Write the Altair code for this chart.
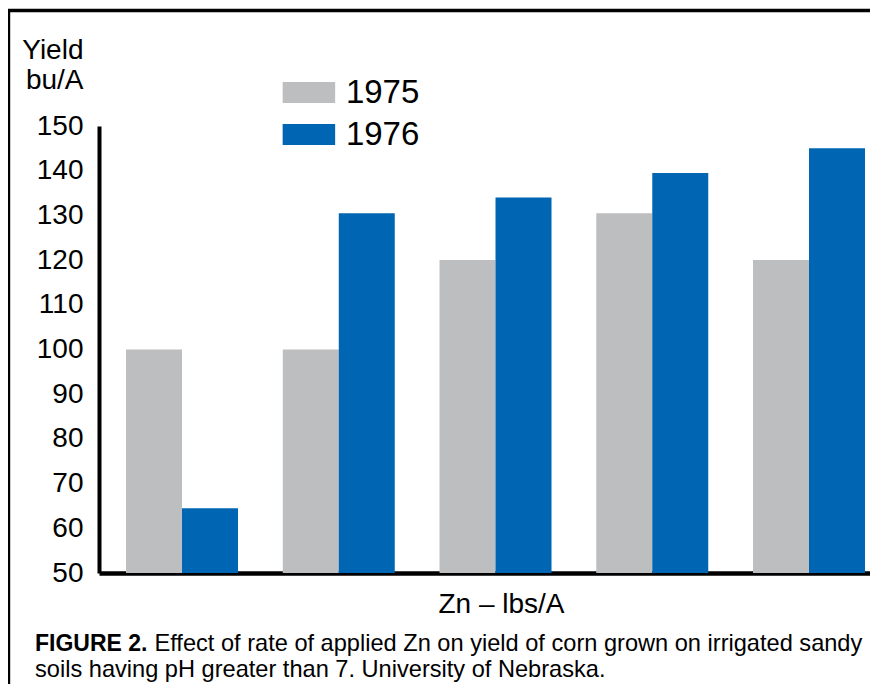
import altair as alt
import pandas as pd

# ---- data ----
rates = ["Rate 1", "Rate 2", "Rate 3", "Rate 4", "Rate 5"]
years = ["1975", "1976"]
yield_1975 = [100, 100, 120, 130.5, 120]
yield_1976 = [64.5, 130.5, 134, 139.5, 145]
y_ticks = [50, 60, 70, 80, 90, 100, 110, 120, 130, 140, 150]
bar_colors = ["#BDBEC0", "#0066B3"]
y_title = ["Yield", "bu/A"]
x_title = "Zn \u2013 lbs/A"
caption_bold = ["FIGURE 2."]
caption_line1 = ["Effect of rate of applied Zn on yield of corn grown on irrigated sandy"]
caption_line2 = ["soils having pH greater than 7. University of Nebraska."]

rows = []
for r, a, b in zip(rates, yield_1975, yield_1976):
    rows.append({"rate": r, "year": years[0], "yield": a})
    rows.append({"rate": r, "year": years[1], "yield": b})
df = pd.DataFrame(rows)

FONT = "Liberation Sans"
W, H = 771, 447

bars = alt.Chart(df).mark_bar().encode(
    x=alt.X(
        "rate:N", sort=rates,
        scale=alt.Scale(paddingInner=0.2855, paddingOuter=0.1021, align=0.844, round=False),
        axis=alt.Axis(
            labels=False, ticks=False, grid=False, domain=True,
            domainColor="black", domainWidth=4.5,
            title=x_title, titleFont=FONT, titleFontSize=28, titleFontWeight="normal",
            titleColor="black", titleX=402, titleY=39, titleAlign="center",
            titleBaseline="alphabetic", titleAnchor="start",
        ),
    ),
    xOffset=alt.XOffset("year:N", sort=years,
                        scale=alt.Scale(paddingInner=0, paddingOuter=0, round=False)),
    y=alt.Y(
        "yield:Q",
        scale=alt.Scale(domain=[50, 150], zero=False, nice=False),
        axis=alt.Axis(
            values=y_ticks, ticks=False, tickSize=0, grid=False,
            domain=True, domainColor="black", domainWidth=4,
            labelFont=FONT, labelFontSize=28, labelColor="black", labelPadding=16,
            labelBaseline="middle",
            title=y_title, titleFont=FONT, titleFontSize=28, titleFontWeight="normal",
            titleColor="black", titleAngle=0, titleAlign="right", titleBaseline="alphabetic",
            titleX=-16, titleY=-68, titleLineHeight=30,
        ),
    ),
    y2=alt.datum(50),
    color=alt.Color(
        "year:N", sort=years,
        scale=alt.Scale(domain=years, range=bar_colors),
        legend=alt.Legend(
            title=None, orient="none", legendX=193.4, legendY=-50, direction="vertical",
            symbolType="M-2.5,-1H2.5V1H-2.5Z", symbolSize=441, symbolStrokeWidth=0,
            symbolOpacity=1, labelFont=FONT, labelFontSize=33, labelColor="black",
            labelOffset=20.5, rowPadding=8, padding=0,
        ),
    ),
)

one = pd.DataFrame({"k": [0]})

left_border = alt.Chart(one).mark_rule(color="black", strokeWidth=3).encode(
    x=alt.value(-90.3), y=alt.value(-117), y2=alt.value(560)
)
top_border = alt.Chart(one).mark_rule(color="black", strokeWidth=3.5).encode(
    x=alt.value(-91.8), x2=alt.value(W), y=alt.value(-115.5)
)

cap_bold = alt.Chart(pd.DataFrame({"t": caption_bold})).mark_text(
    font=FONT, fontSize=23, fontWeight="bold", align="left", baseline="alphabetic", color="black"
).encode(text="t:N", x=alt.value(-64), y=alt.value(525))

cap_l1 = alt.Chart(pd.DataFrame({"t": caption_line1})).mark_text(
    font=FONT, fontSize=23.6, align="left", baseline="alphabetic", color="black"
).encode(text="t:N", x=alt.value(55.5), y=alt.value(525))

cap_l2 = alt.Chart(pd.DataFrame({"t": caption_line2})).mark_text(
    font=FONT, fontSize=23.6, align="left", baseline="alphabetic", color="black"
).encode(text="t:N", x=alt.value(-64), y=alt.value(550.5))

chart = alt.layer(bars, left_border, top_border, cap_bold, cap_l1, cap_l2).properties(
    width=W, height=H,
    padding={"left": 91, "top": 118, "right": 0, "bottom": 111},
    autosize=alt.AutoSizeParams(type="none"),
    background="white",
).configure_view(stroke=None)

chart.save("out.html", embed_options={"renderer": "svg", "actions": False})
